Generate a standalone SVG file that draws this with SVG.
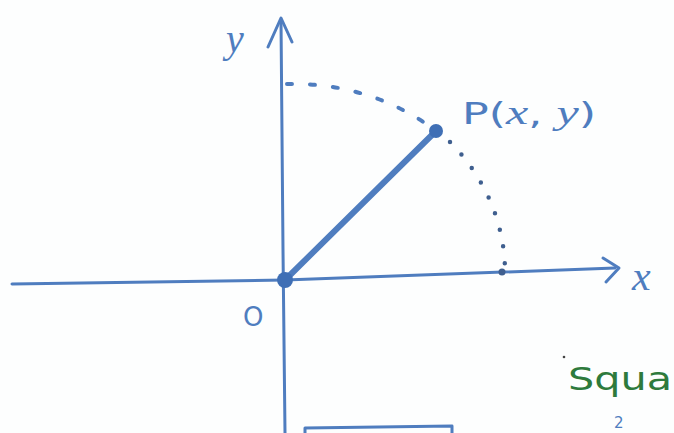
<svg xmlns="http://www.w3.org/2000/svg" width="674" height="433" viewBox="0 0 674 433">
<style>
.ax{fill:none;stroke:#4f7dbf;stroke-width:3;stroke-linecap:round;stroke-linejoin:round}
.lbl{fill:#4f7dbf;font-family:"Liberation Serif",serif;font-style:italic}
.plbl{fill:#4f7dbf;font-family:"DejaVu Sans",sans-serif}
</style>
<rect width="674" height="433" fill="#fdfefe"/>
<g id="axes">
<path class="ax" d="M12 284 L285 280 L615 268"/>
<path class="ax" d="M603 258 L619 268 L606 282"/>
<path class="ax" d="M285 433 L283 250 L281 20"/>
<path class="ax" d="M268 47 L281 18 L292 42"/>
</g>
<g id="arc">
<path d="M287 84 A 218 196 0 0 1 432 128" fill="none" stroke="#4f7dbf" stroke-width="4" stroke-linecap="round" stroke-dasharray="5 18"/>
<path d="M450 142 A 218 196 0 0 1 505 272" fill="none" stroke="#3f5f8f" stroke-width="4.5" stroke-linecap="round" stroke-dasharray="0 17"/>
</g>
<g id="segment">
<line x1="285" y1="280" x2="436" y2="131" stroke="#4f7dbf" stroke-width="6" stroke-linecap="round"/>
<circle cx="285" cy="280" r="8" fill="#3f6fb5"/>
<circle cx="436" cy="131" r="7" fill="#3f6fb5"/>
<circle cx="502" cy="272" r="3.5" fill="#3f5f8f"/>
</g>
<g id="labels">
<text class="lbl" x="226" y="52" font-size="40">y</text>
<text class="lbl" x="632" y="290" font-size="42">x</text>
<text class="plbl" x="243" y="326" font-size="26">O</text>
<text class="plbl" x="462" y="124" font-size="30" textLength="134" lengthAdjust="spacingAndGlyphs">P(<tspan font-family="Liberation Serif" font-style="italic" font-size="34">x</tspan>, <tspan font-family="Liberation Serif" font-style="italic" font-size="34">y</tspan>)</text>
<text x="568" y="390" font-size="32" fill="#2e7a3c" font-family="DejaVu Sans,sans-serif" textLength="104" lengthAdjust="spacingAndGlyphs">Squa</text>
<text x="614" y="428" font-size="15" fill="#4f7dbf" font-family="DejaVu Sans,sans-serif">2</text>
<circle cx="564" cy="357" r="1.3" fill="#444"/>
</g>
<g id="box">
<path class="ax" d="M305 433 L305 428 L452 426 L452 433"/>
</g>
</svg>
